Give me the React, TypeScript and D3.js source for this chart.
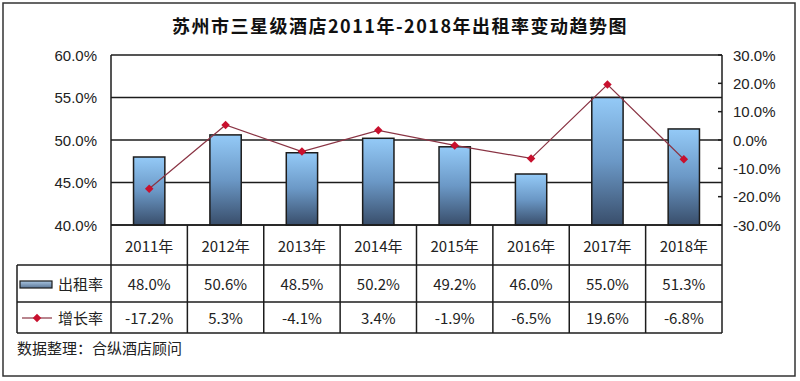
import React from "react";
import * as d3 from "d3";

const years = ["2011年", "2012年", "2013年", "2014年", "2015年", "2016年", "2017年", "2018年"];
const occupancy = [48.0, 50.6, 48.5, 50.2, 49.2, 46.0, 55.0, 51.3];
const growth = [-17.2, 5.3, -4.1, 3.4, -1.9, -6.5, 19.6, -6.8];
const leftTicks = [40, 45, 50, 55, 60];
const rightTicks = [-30, -20, -10, 0, 10, 20, 30];
const title = "苏州市三星级酒店2011年-2018年出租率变动趋势图";
const seriesNames = ["出租率", "增长率"];
const source = "数据整理：合纵酒店顾问";

const W = 800;
const H = 381;
const plotL = 111;
const plotR = 722;
const plotT = 55;
const plotB = 225;
const row1B = 265;
const row2B = 302;
const row3B = 333;
const tableL = 17;

const CJK = "'Noto Sans CJK SC', 'Noto Sans', sans-serif";
const ARIAL = "'Liberation Sans', Arial, sans-serif";

export default function App() {
  const x = d3.scaleBand<string>().domain(years).range([plotL, plotR]).padding(0);
  const yL = d3.scaleLinear().domain([40, 60]).range([plotB, plotT]);
  const yR = d3.scaleLinear().domain([-30, 30]).range([plotB, plotT]);
  const bw = x.bandwidth() * 0.41;
  const cx = (d: string) => (x(d) as number) + x.bandwidth() / 2;

  const line = d3
    .line<number>()
    .x((_, i) => cx(years[i]))
    .y((d) => yR(d));

  const diamond = d3.symbol(d3.symbolSquare, 36)();
  const stroke = "#1c1c1c";
  const sw = 1.5;

  return (
    <svg
      width={W}
      height={H}
      style={{ position: "absolute", left: 0, top: 0, background: "#fff" }}
    >
      <defs>
        <linearGradient id="barGrad" x1="0" y1="0" x2="0" y2="1">
          <stop offset="0%" stopColor="#94caf7" />
          <stop offset="50%" stopColor="#6b98c6" />
          <stop offset="100%" stopColor="#394e6b" />
        </linearGradient>
        <linearGradient id="legGrad" x1="0" y1="0" x2="0" y2="1">
          <stop offset="0%" stopColor="#a9c6e2" />
          <stop offset="100%" stopColor="#5a7596" />
        </linearGradient>
      </defs>
      <rect x={3} y={3} width={792} height={373} fill="#fff" stroke="#333" strokeWidth={1.5} />

      <text
        x={400}
        y={25}
        textAnchor="middle"
        dominantBaseline="central"
        fontFamily={CJK}
        fontWeight="bold"
        fontSize={18}
        letterSpacing={1.5}
        fill="#111"
      >
        {title}
      </text>

      {/* gridlines */}
      {leftTicks.map((t) => (
        <line key={"g" + t} x1={plotL} x2={plotR} y1={yL(t)} y2={yL(t)} stroke={stroke} strokeWidth={sw} />
      ))}
      <line x1={plotL} x2={plotL} y1={plotT} y2={plotB} stroke={stroke} strokeWidth={sw} />
      <line x1={plotR} x2={plotR} y1={plotT} y2={row3B} stroke={stroke} strokeWidth={sw} />

      {/* left axis labels */}
      {leftTicks.map((t) => (
        <text
          key={"l" + t}
          x={97}
          y={yL(t)}
          textAnchor="end"
          dominantBaseline="central"
          fontFamily={ARIAL}
          fontSize={15}
          fill="#222"
        >
          {t.toFixed(1)}%
        </text>
      ))}

      {/* right axis */}
      {rightTicks.map((t) => (
        <g key={"r" + t}>
          <line x1={plotR - 4} x2={plotR} y1={yR(t)} y2={yR(t)} stroke={stroke} strokeWidth={sw} />
          <text
            x={733}
            y={yR(t)}
            dominantBaseline="central"
            fontFamily={ARIAL}
            fontSize={15}
            fill="#222"
          >
            {t.toFixed(1)}%
          </text>
        </g>
      ))}

      {/* bars */}
      {occupancy.map((v, i) => (
        <rect
          key={"b" + i}
          x={cx(years[i]) - bw / 2}
          y={yL(v)}
          width={bw}
          height={plotB - yL(v)}
          fill="url(#barGrad)"
          stroke={stroke}
          strokeWidth={sw}
        />
      ))}

      {/* growth line */}
      <path d={line(growth) || ""} fill="none" stroke="#8a3444" strokeWidth={1.2} />
      {growth.map((v, i) => (
        <path
          key={"m" + i}
          d={diamond || ""}
          transform={`translate(${cx(years[i])},${yR(v)}) rotate(45)`}
          fill="#c8102e"
        />
      ))}

      {/* data table */}
      <line x1={plotL} x2={plotR} y1={plotB} y2={plotB} stroke={stroke} strokeWidth={sw} />
      {[row1B, row2B, row3B].map((yy) => (
        <line key={"h" + yy} x1={tableL} x2={plotR} y1={yy} y2={yy} stroke={stroke} strokeWidth={sw} />
      ))}
      <line x1={tableL} x2={tableL} y1={row1B} y2={row3B} stroke={stroke} strokeWidth={sw} />
      {years.map((yv) => (
        <line
          key={"v" + yv}
          x1={x(yv) as number}
          x2={x(yv) as number}
          y1={plotB}
          y2={row3B}
          stroke={stroke}
          strokeWidth={sw}
        />
      ))}
      {years.map((yv) => (
        <text
          key={"t" + yv}
          x={cx(yv)}
          y={(plotB + row1B) / 2}
          textAnchor="middle"
          dominantBaseline="central"
          fontFamily={CJK}
          fontSize={15}
          fill="#222"
        >
          {yv}
        </text>
      ))}
      {occupancy.map((v, i) => (
        <text
          key={"o" + i}
          x={cx(years[i])}
          y={(row1B + row2B) / 2}
          textAnchor="middle"
          dominantBaseline="central"
          fontFamily={CJK}
          fontSize={15}
          fill="#222"
        >
          {v.toFixed(1)}%
        </text>
      ))}
      {growth.map((v, i) => (
        <text
          key={"gr" + i}
          x={cx(years[i])}
          y={(row2B + row3B) / 2}
          textAnchor="middle"
          dominantBaseline="central"
          fontFamily={CJK}
          fontSize={15}
          fill="#222"
        >
          {v.toFixed(1)}%
        </text>
      ))}

      {/* legend keys in table */}
      <rect x={20} y={281} width={32} height={7} fill="url(#legGrad)" stroke={stroke} strokeWidth={1.2} />
      <text x={58} y={(row1B + row2B) / 2} dominantBaseline="central" fontFamily={CJK} fontSize={15} fill="#222">
        {seriesNames[0]}
      </text>
      <line x1={22} x2={52} y1={318} y2={318} stroke="#8a3444" strokeWidth={1.2} />
      <path d={diamond || ""} transform="translate(37,318) rotate(45)" fill="#c8102e" />
      <text x={58} y={(row2B + row3B) / 2} dominantBaseline="central" fontFamily={CJK} fontSize={15} fill="#222">
        {seriesNames[1]}
      </text>

      <text x={17} y={347} dominantBaseline="central" fontFamily={CJK} fontSize={15} fill="#222">
        {source}
      </text>
    </svg>
  );
}
